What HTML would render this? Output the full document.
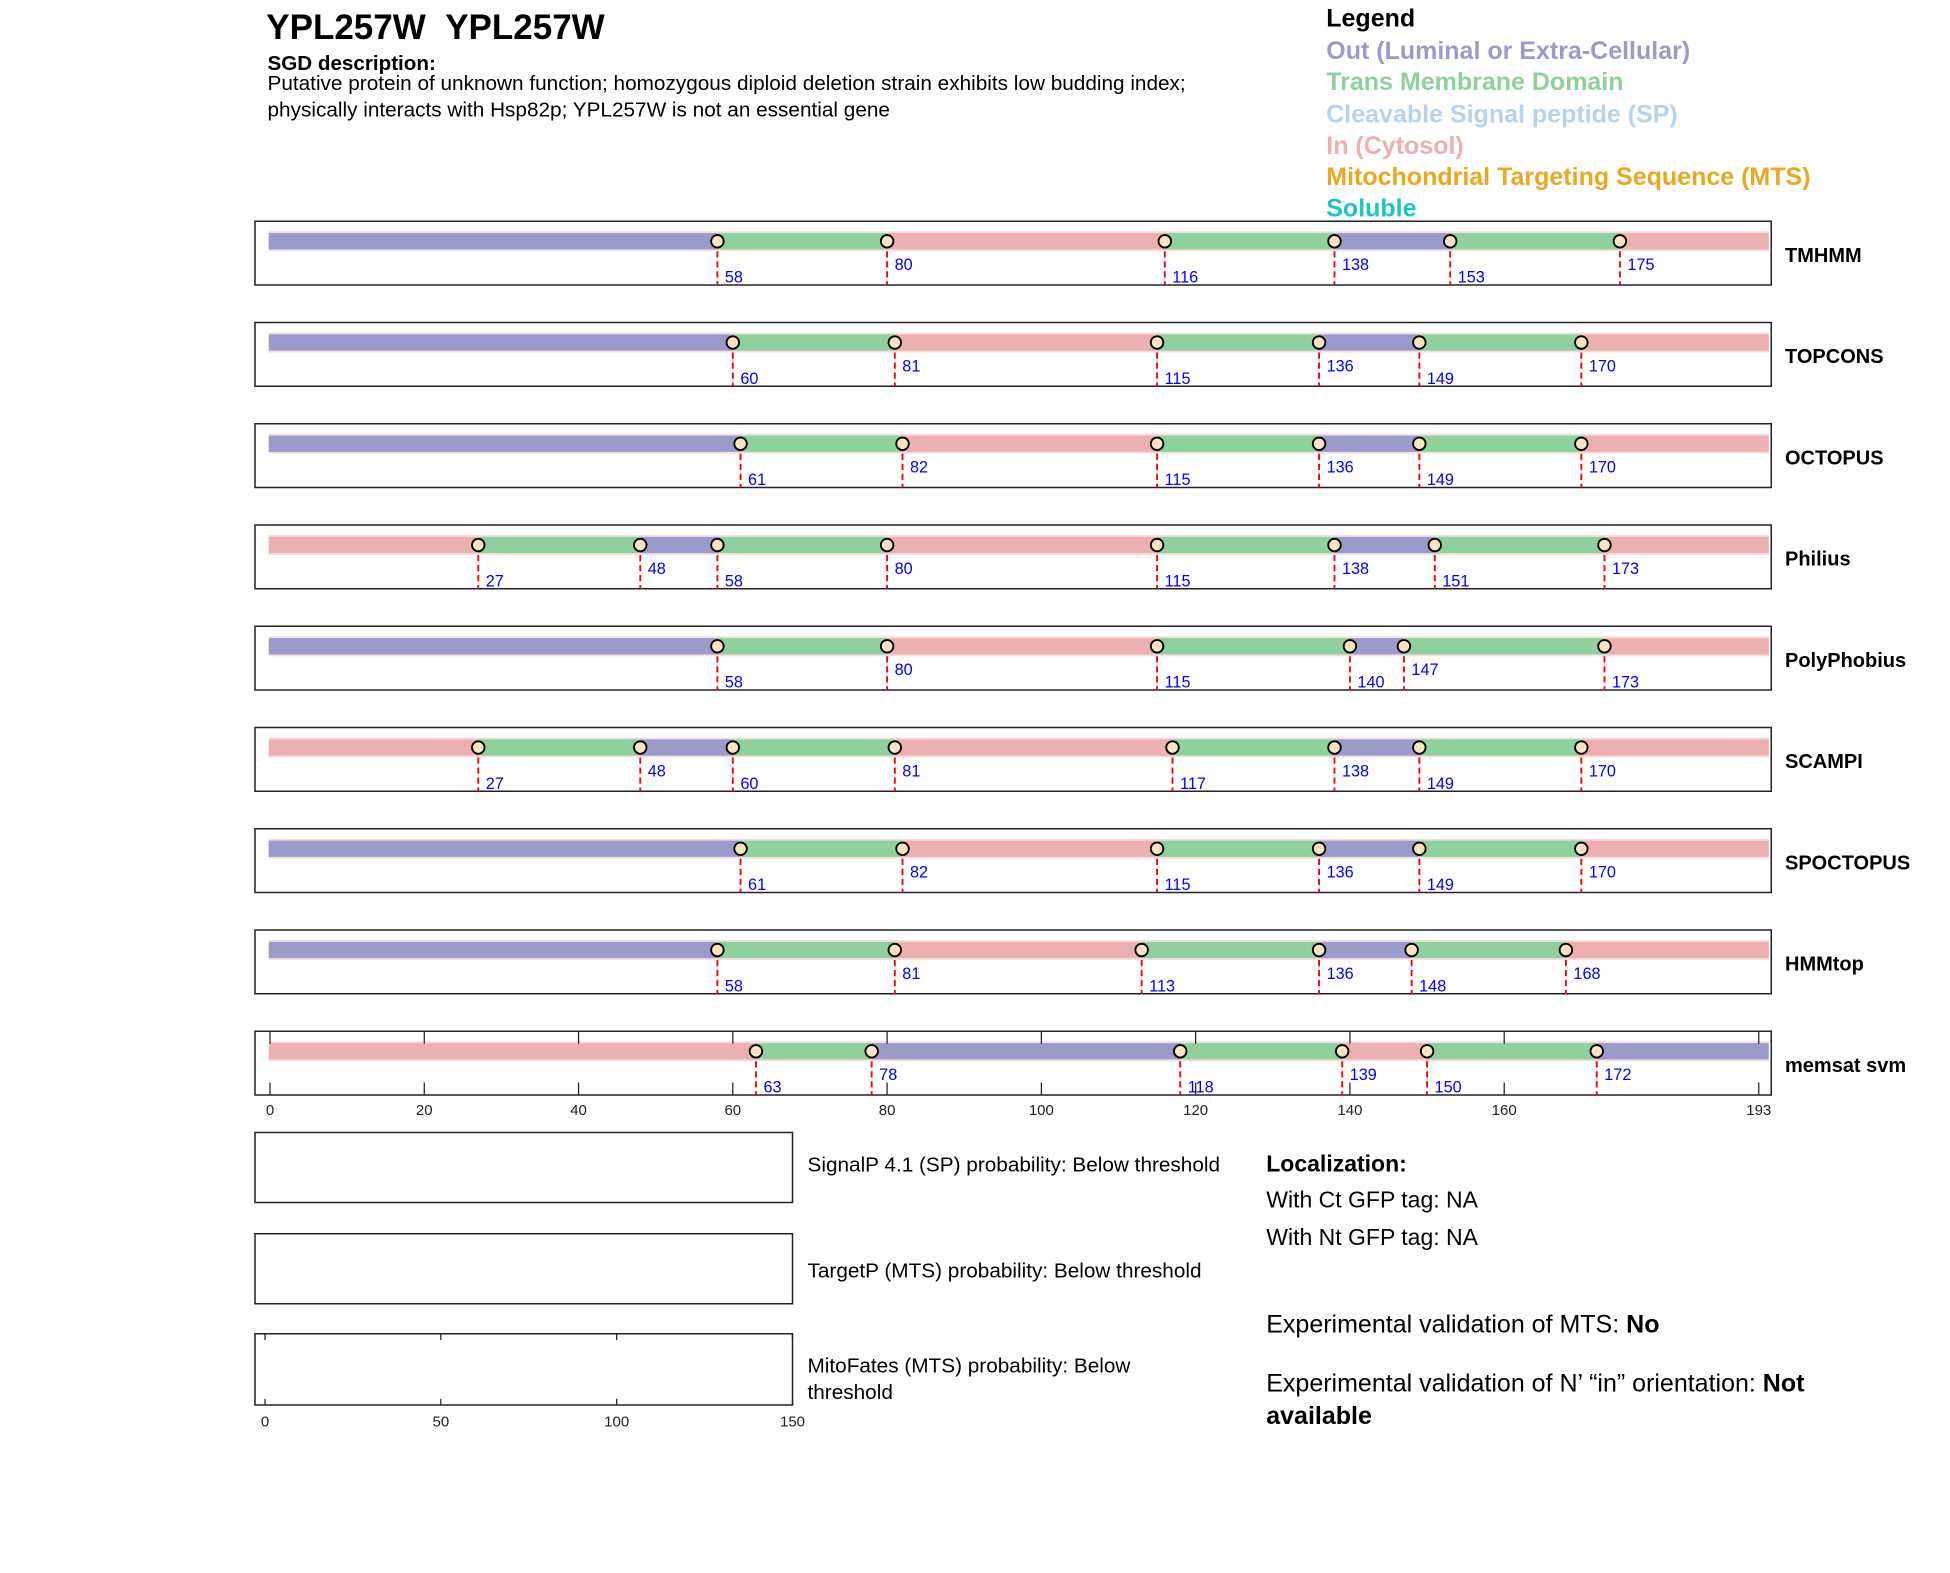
<!DOCTYPE html>
<html><head><meta charset="utf-8"><style>
html,body{margin:0;padding:0;background:#fff;}
svg{display:block;font-family:"Liberation Sans",Arial,sans-serif;}
</style></head><body>
<svg id="chart" width="1950" height="1573" viewBox="0 0 1560 1258.4" xmlns="http://www.w3.org/2000/svg">
<text x="213" y="31" font-size="28" font-weight="bold">YPL257W&#160;&#160;YPL257W</text>
<text x="214" y="56" font-size="16.5" font-weight="bold">SGD description:</text>
<text x="214" y="72" font-size="16.6">Putative protein of unknown function; homozygous diploid deletion strain exhibits low budding index;</text>
<text x="214" y="93" font-size="16.6">physically interacts with Hsp82p; YPL257W is not an essential gene</text>
<g font-size="20" font-weight="bold">
<text x="1061" y="21" fill="#000">Legend</text>
<text x="1061" y="47" fill="#9b9bcb">Out (Luminal or Extra-Cellular)</text>
<text x="1061" y="72" fill="#8fd19a">Trans Membrane Domain</text>
<text x="1061" y="98" fill="#b5d3f0">Cleavable Signal peptide (SP)</text>
<text x="1061" y="123" fill="#ecb0b0">In (Cytosol)</text>
<text x="1061" y="148" fill="#e8a820">Mitochondrial Targeting Sequence (MTS)</text>
<text x="1061" y="173" fill="#1cc6c6">Soluble</text>
</g>
<g id="rows"></g>
<g>
<rect x="204" y="906" width="430" height="56" fill="none" stroke="#222" stroke-width="1.2"/>
<rect x="204" y="987" width="430" height="56" fill="none" stroke="#222" stroke-width="1.2"/>
<rect x="204" y="1067" width="430" height="57" fill="none" stroke="#222" stroke-width="1.2"/>
<g id="mitoaxis"></g>
<text x="646" y="937" font-size="16.6">SignalP 4.1 (SP) probability: Below threshold</text>
<text x="646" y="1022" font-size="16.6">TargetP (MTS) probability: Below threshold</text>
<text x="646" y="1098" font-size="16.6">MitoFates (MTS) probability: Below</text>
<text x="646" y="1119" font-size="16.6">threshold</text>
<text x="1013" y="937" font-size="18.4" font-weight="bold">Localization:</text>
<text x="1013" y="966" font-size="18.4">With Ct GFP tag: NA</text>
<text x="1013" y="996" font-size="18.4">With Nt GFP tag: NA</text>
<text x="1013" y="1066" font-size="20">Experimental validation of MTS: <tspan font-weight="bold">No</tspan></text>
<text x="1013" y="1113" font-size="20">Experimental validation of N’ “in” orientation: <tspan font-weight="bold">Not</tspan></text>
<text x="1013" y="1139" font-size="20" font-weight="bold">available</text>
</g>
</svg>
<script>
const methods = ["TMHMM","TOPCONS","OCTOPUS","Philius","PolyPhobius","SCAMPI","SPOCTOPUS","HMMtop","memsat svm"];
const boundaries = [
 [58,80,116,138,153,175],
 [60,81,115,136,149,170],
 [61,82,115,136,149,170],
 [27,48,58,80,115,138,151,173],
 [58,80,115,140,147,173],
 [27,48,60,81,117,138,149,170],
 [61,82,115,136,149,170],
 [58,81,113,136,148,168],
 [63,78,118,139,150,172]
];
const segTypes = [
 ["out","tm","in","tm","out","tm","in"],
 ["out","tm","in","tm","out","tm","in"],
 ["out","tm","in","tm","out","tm","in"],
 ["in","tm","out","tm","in","tm","out","tm","in"],
 ["out","tm","in","tm","out","tm","in"],
 ["in","tm","out","tm","in","tm","out","tm","in"],
 ["out","tm","in","tm","out","tm","in"],
 ["out","tm","in","tm","out","tm","in"],
 ["in","tm","out","tm","in","tm","out"]
];
const labelLevels = [
 [1,0,1,0,1,0],[1,0,1,0,1,0],[1,0,1,0,1,0],[1,0,1,0,1,0,1,0],
 [1,0,1,1,0,1],[1,0,1,0,1,0,1,0],[1,0,1,0,1,0],[1,0,1,0,1,0],[1,0,1,0,1,0]
];
const seqLength = 193;
const axisTicks = [0,20,40,60,80,100,120,140,160,193];
const mitoTicks = [0,50,100,150];

const NS="http://www.w3.org/2000/svg";
const colors={out:"#9b9bcb",tm:"#8fd19a",in:"#ecb0b0"};
const x=v=>216+v*(1407-216)/seqLength;
const mx=v=>212+v*(634-212)/150;
function mk(tag,attrs,parent){const e=document.createElementNS(NS,tag);for(const k in attrs)e.setAttribute(k,attrs[k]);parent.appendChild(e);return e;}
const rows=document.getElementById('rows');
methods.forEach((m,i)=>{
  const top=177+i*81, h=51;
  const g=mk('g',{},rows);
  
  
  const box=mk('rect',{x:204,y:top,width:1213,height:h,fill:'#fff',stroke:'#222','stroke-width':1.2},g);
  
  
  const cy=top+16;
  const bg=mk('rect',{x:215,y:cy-8,width:1200,height:16,fill:'#f3dede'},g);
  
  
  const b=boundaries[i];
  const edges=[0].concat(b).concat([seqLength]);
  segTypes[i].forEach((t,j)=>{
    const x0=j===0?215:x(edges[j]);
    const x1=j===segTypes[i].length-1?1415:x(edges[j+1]);
    const r=mk('rect',{x:x0,y:cy-6.5,width:x1-x0,height:13,fill:colors[t]},g);
    
    
  });
  if(i===methods.length-1){
    axisTicks.forEach(v=>{
      const t1=mk('line',{x1:x(v),x2:x(v),y1:top,y2:top+10,stroke:'#222','stroke-width':1},g);
      
      
      const t2=mk('line',{x1:x(v),x2:x(v),y1:top+h-10,y2:top+h,stroke:'#222','stroke-width':1},g);
      
      
      const tl=mk('text',{x:x(v),y:top+h+16,'font-size':12,'text-anchor':'middle',fill:'#222'},g);
      tl.textContent=v;
      
      
    });
  }
  b.forEach((v,j)=>{
    const ln=mk('line',{x1:x(v),x2:x(v),y1:cy,y2:top+h,stroke:'#f00','stroke-width':1.5,'stroke-dasharray':'5,3'},g);
    
    
    const c=mk('circle',{cx:x(v),cy:cy,r:5,fill:'#fde3c4',stroke:'#000','stroke-width':1.5},g);
    
    
    const tx=mk('text',{x:x(v)+6,y:labelLevels[i][j]?top+49:top+39,'font-size':13,fill:'#0000ff'},g);
    tx.textContent=v;
    
    
  });
  const lab=mk('text',{x:1428,y:top+h/2+7,'font-size':16,'font-weight':'bold'},g);
  lab.textContent=m;
  
  
});
const ma=document.getElementById('mitoaxis');
mitoTicks.forEach(v=>{
  const a=mk('line',{x1:mx(v),x2:mx(v),y1:1067,y2:1072,stroke:'#222'},ma);
  
  
  const b2=mk('line',{x1:mx(v),x2:mx(v),y1:1119,y2:1124,stroke:'#222'},ma);
  
  
  const t=mk('text',{x:mx(v),y:1141,'font-size':12,'text-anchor':'middle',fill:'#222'},ma);
  t.textContent=v;
  
  
});
</script>
</body></html>
